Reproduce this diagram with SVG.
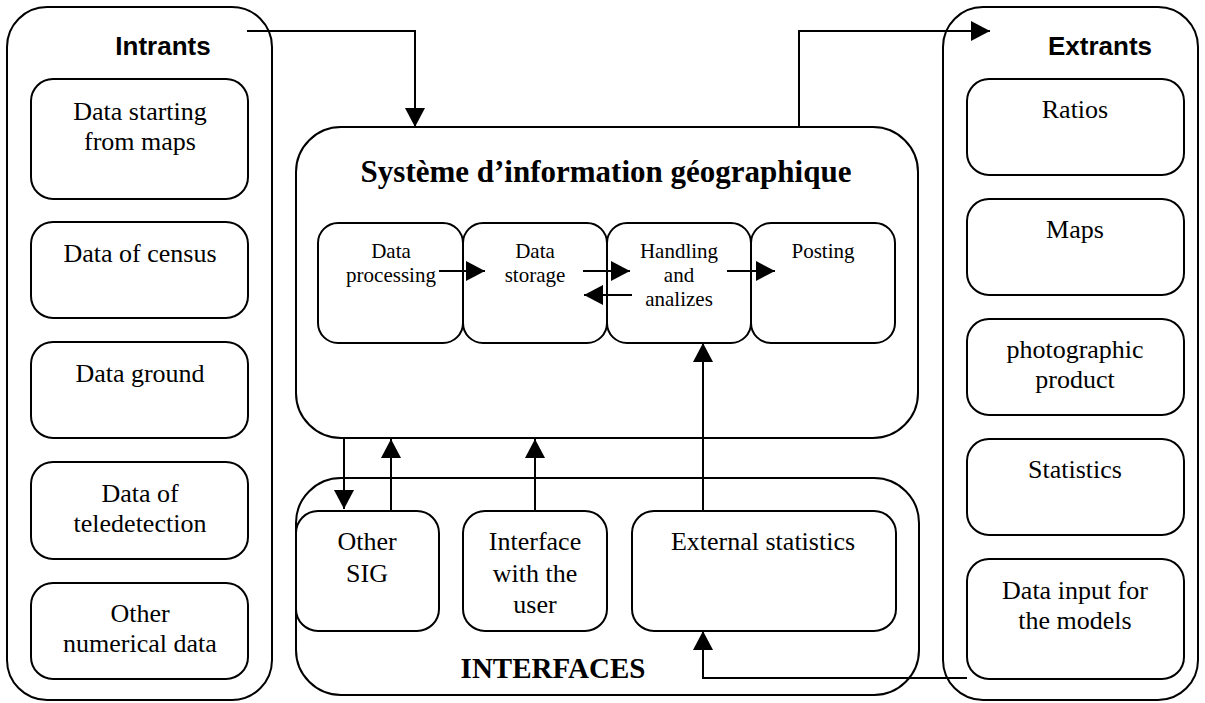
<svg xmlns="http://www.w3.org/2000/svg" width="1205" height="703" viewBox="0 0 1205 703">
<style>
.box{fill:none;stroke:#000;stroke-width:2}
.wbox{fill:#fff;stroke:#000;stroke-width:2}
.t{font-family:"Liberation Serif","Times New Roman",serif;font-size:26px;fill:#000;text-anchor:middle}
.s{font-family:"Liberation Serif","Times New Roman",serif;font-size:21px;fill:#000;text-anchor:middle}
.h{font-family:"Liberation Sans",Arial,sans-serif;font-size:26px;font-weight:bold;fill:#000;text-anchor:middle}
.hb{font-family:"Liberation Serif","Times New Roman",serif;font-weight:bold;fill:#000;text-anchor:middle}
.c{fill:none;stroke:#000;stroke-width:2}
</style>
<defs>
<marker id="ah" markerUnits="userSpaceOnUse" markerWidth="20" markerHeight="22" refX="19" refY="11" orient="auto" viewBox="0 0 20 22">
<path d="M0,1 L19,11 L0,21 z" fill="#000"/>
</marker>
</defs>
<rect width="1205" height="703" fill="#fff"/>

<g id="intrants">
<rect class="box" x="7" y="7" width="265" height="693" rx="40"/>
<text class="h" x="163" y="55">Intrants</text>
</g>
<g id="in-maps"><rect class="box" x="31" y="79" width="217" height="120" rx="22"/>
<text class="t" x="140" y="120">Data starting</text><text class="t" x="140" y="150">from maps</text></g>
<g id="in-census"><rect class="box" x="31" y="222" width="217" height="96" rx="22"/>
<text class="t" x="140" y="262">Data of census</text></g>
<g id="in-ground"><rect class="box" x="31" y="342" width="217" height="96" rx="22"/>
<text class="t" x="140" y="382">Data ground</text></g>
<g id="in-tele"><rect class="box" x="31" y="462" width="217" height="97" rx="22"/>
<text class="t" x="140" y="502">Data of</text><text class="t" x="140" y="532">teledetection</text></g>
<g id="in-other"><rect class="box" x="31" y="583" width="217" height="96" rx="22"/>
<text class="t" x="140" y="622">Other</text><text class="t" x="140" y="652">numerical data</text></g>

<g id="extrants">
<rect class="box" x="943" y="7" width="255" height="693" rx="40"/>
<text class="h" x="1100" y="55">Extrants</text>
</g>
<g id="out-ratios"><rect class="box" x="967" y="79" width="217" height="96" rx="22"/>
<text class="t" x="1075" y="118">Ratios</text></g>
<g id="out-maps"><rect class="box" x="967" y="199" width="217" height="96" rx="22"/>
<text class="t" x="1075" y="238">Maps</text></g>
<g id="out-photo"><rect class="box" x="967" y="319" width="217" height="96" rx="22"/>
<text class="t" x="1075" y="358">photographic</text><text class="t" x="1075" y="388">product</text></g>
<g id="out-stats"><rect class="box" x="967" y="439" width="217" height="96" rx="22"/>
<text class="t" x="1075" y="478">Statistics</text></g>
<g id="out-models"><rect class="box" x="967" y="559" width="217" height="120" rx="22"/>
<text class="t" x="1075" y="599">Data input for</text><text class="t" x="1075" y="629">the models</text></g>

<g id="sig">
<rect class="box" x="296" y="127" width="622" height="311" rx="45"/>
<text class="hb" x="606" y="182" font-size="31">Système d’information géographique</text>
</g>
<g id="proc"><rect class="box" x="318" y="223" width="145" height="120" rx="20"/>
<text class="s" x="391" y="258">Data</text><text class="s" x="391" y="282">processing</text></g>
<g id="storage"><rect class="box" x="463" y="223" width="144" height="120" rx="20"/>
<text class="s" x="535" y="258">Data</text><text class="s" x="535" y="282">storage</text></g>
<g id="handling"><rect class="box" x="607" y="223" width="144" height="120" rx="20"/>
<text class="s" x="679" y="258">Handling</text><text class="s" x="679" y="282">and</text><text class="s" x="679" y="306">analizes</text></g>
<g id="posting"><rect class="box" x="751" y="223" width="144" height="120" rx="20"/>
<text class="s" x="823" y="258">Posting</text></g>

<g id="interfaces">
<rect class="box" x="296" y="478" width="623" height="217" rx="45"/>
<text class="hb" x="553" y="678" font-size="29">INTERFACES</text>
</g>
<g id="other-sig"><rect class="wbox" x="296" y="511" width="143" height="120" rx="22"/>
<text class="t" x="367" y="550">Other</text><text class="t" x="367" y="582">SIG</text></g>
<g id="user"><rect class="wbox" x="463" y="511" width="144" height="120" rx="22"/>
<text class="t" x="535" y="550">Interface</text><text class="t" x="535" y="582">with the</text><text class="t" x="535" y="613">user</text></g>
<g id="ext-stats"><rect class="wbox" x="632" y="511" width="264" height="120" rx="22"/>
<text class="t" x="763" y="550">External statistics</text></g>

<g id="connectors">
<path class="c" d="M247,31 H415 V127" marker-end="url(#ah)"/>
<path class="c" d="M799,127 V31 H990" marker-end="url(#ah)"/>
<path class="c" d="M439,271 H485" marker-end="url(#ah)"/>
<path class="c" d="M583,271 H630" marker-end="url(#ah)"/>
<path class="c" d="M632,295 H584" marker-end="url(#ah)"/>
<path class="c" d="M727,271 H775" marker-end="url(#ah)"/>
<path class="c" d="M703,511 V343" marker-end="url(#ah)"/>
<path class="c" d="M344,438 V509" marker-end="url(#ah)"/>
<path class="c" d="M391,511 V439" marker-end="url(#ah)"/>
<path class="c" d="M535,511 V439" marker-end="url(#ah)"/>
<path class="c" d="M967,678 H703 V631" marker-end="url(#ah)"/>
</g>
</svg>
